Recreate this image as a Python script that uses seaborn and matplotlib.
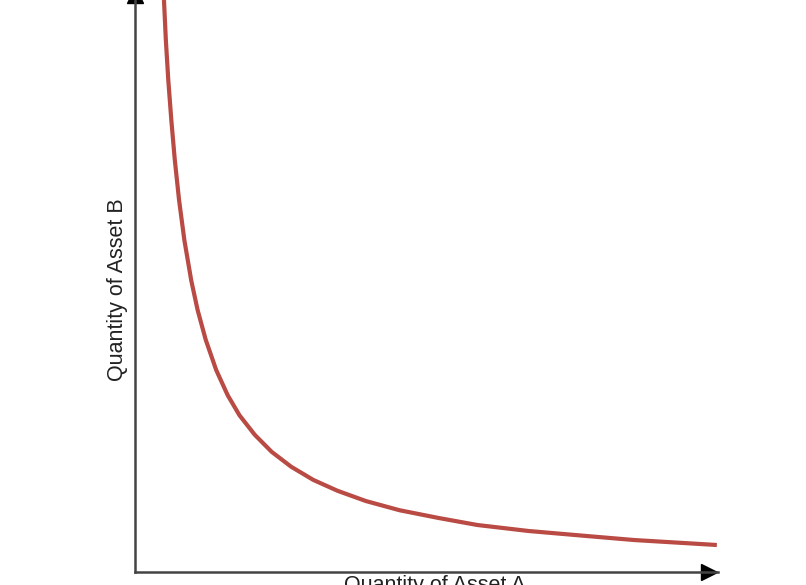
import pandas as pd
import seaborn as sns
import matplotlib.pyplot as plt

sns.set_theme(style="white")
plt.rcParams['font.family'] = ['Liberation Sans', 'DejaVu Sans']

# values (0-100 scale on both axes)
qty_a = [4.97, 5.29, 5.71, 6.23, 6.83, 7.56, 8.47, 9.64, 10.74, 12.13, 13.93,
         15.90, 17.92, 20.53, 23.45, 26.79, 30.58, 34.73, 39.62, 45.37, 52.09,
         58.7, 67.5, 77.5, 85.6, 99.8]
qty_b = [100.0, 93.0, 86.0, 79.0, 72.0, 65.0, 58.0, 51.0, 45.8, 40.6, 35.3,
         30.9, 27.4, 24.0, 21.0, 18.4, 16.1, 14.2, 12.4, 10.8, 9.44,
         8.22, 7.17, 6.29, 5.59, 4.72]
x_label = "Quantity of Asset A"
y_label = "Quantity of Asset B"

df = pd.DataFrame({'A': qty_a, 'B': qty_b})

fig = plt.figure(figsize=(8.06, 5.85), dpi=100)
ax = fig.add_axes([135 / 806, 13 / 585, 583 / 806, 572 / 585])

sns.lineplot(data=df, x='A', y='B', ax=ax, color='#b94a44', linewidth=3,
             sort=False, solid_capstyle='butt', solid_joinstyle='round')

ax.set_xlim(0, 100)
ax.set_ylim(0, 100)
ax.set_xticks([])
ax.set_yticks([])

for side in ['top', 'right']:
    ax.spines[side].set_visible(False)
for side in ['left', 'bottom']:
    ax.spines[side].set_color('#444444')
    ax.spines[side].set_linewidth(1.8)

# arrow heads on the axes
ax.plot(0.985, 0, marker='>', color='black', markersize=11, transform=ax.transAxes, clip_on=False)
ax.plot(0, 1.008, marker='^', color='black', markersize=11, transform=ax.transAxes, clip_on=False)

ax.set_xlabel(x_label, fontsize=15.5, color='#222222')
ax.xaxis.set_label_coords(0.515, -0.005)
ax.xaxis.label.set_verticalalignment('top')
ax.set_ylabel(y_label, fontsize=15.5, color='#222222')
ax.yaxis.set_label_coords(-0.012, 0.493)

fig.savefig('out.png', dpi=100)
